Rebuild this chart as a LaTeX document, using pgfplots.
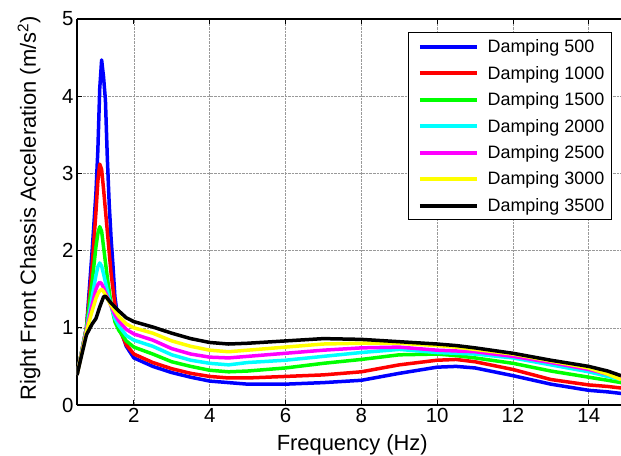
\documentclass[border=0pt]{standalone}
\usepackage{fontspec}
\setmainfont{Liberation Sans}
\usepackage{pgfplots}
\pgfplotsset{compat=1.18}
\definecolor{mblue}{rgb}{0,0,1}
\definecolor{mred}{rgb}{1,0,0}
\definecolor{mgreen}{rgb}{0,1,0}
\definecolor{mcyan}{rgb}{0,1,1}
\definecolor{mmagenta}{rgb}{1,0,1}
\definecolor{myellow}{rgb}{1,1,0}

\begin{document}
\begin{tikzpicture}
\begin{axis}[
  width=544bp, height=386bp, scale only axis,
  xmin=0.5, xmax=14.85, ymin=0, ymax=5,
  xtick={2,4,...,14}, ytick={0,1,...,5},
  axis x line*=box, axis y line*=left,
  y axis line style={-},
  axis line style={line width=1.2bp},
  grid=major, major grid style={densely dotted, gray!80, line width=0.6bp},
  tick style={black, line width=0.8bp}, major tick length=5bp,
  tick align=inside,
  ticklabel style={font=\fontsize{20.5}{22}\selectfont},
  /pgf/number format/assume math mode=true,
  xlabel={Frequency (Hz)},
  ylabel={Right Front Chassis Acceleration (m/s\textsuperscript{2})},
  label style={font=\fontsize{22}{24}\selectfont},
  xlabel style={at={(axis description cs:0.506,0)}, anchor=base, yshift=-45bp},
  ylabel style={at={(axis description cs:-0.0607,0.51)}, anchor=south},
  legend style={at={(0.983,0.966)}, anchor=north east, draw=black,
    line width=1bp, font=\fontsize{18}{20}\selectfont,
    cells={anchor=west}, row sep=8bp, inner sep=5bp},
  legend image code/.code={\path (-5bp,0bp); \draw[#1,line width=4bp] (0bp,0bp) -- (57bp,0bp); \path (64bp,0bp);},
  every axis plot/.append style={line width=3.5bp, line join=round},
]
\addplot[mblue] coordinates {(0.5,0.39)(0.75,1.0)(0.9,2.0)(1.0,2.75)(1.05,3.3)(1.1,4.1)(1.15,4.47)(1.2,4.25)(1.25,3.95)(1.3,3.2)(1.35,2.6)(1.4,2.15)(1.45,1.8)(1.5,1.4)(1.6,1.05)(1.8,0.76)(2.0,0.61)(2.5,0.5)(3,0.42)(3.5,0.36)(4,0.31)(4.5,0.29)(5,0.27)(6,0.27)(7,0.29)(8,0.32)(9,0.41)(10,0.49)(10.5,0.5)(11,0.48)(12,0.38)(13,0.27)(14,0.19)(14.5,0.17)(14.85,0.15)};
\addlegendentry{Damping 500}
\addplot[mred] coordinates {(0.5,0.39)(0.75,1.0)(0.9,1.8)(1.0,2.5)(1.05,2.9)(1.1,3.12)(1.15,3.05)(1.2,2.8)(1.3,2.25)(1.4,1.7)(1.5,1.3)(1.6,1.0)(1.8,0.78)(2.0,0.66)(2.5,0.55)(3,0.47)(3.5,0.41)(4,0.37)(4.5,0.35)(5,0.35)(6,0.37)(7,0.39)(8,0.43)(9,0.52)(10,0.58)(10.5,0.59)(11,0.56)(12,0.46)(13,0.33)(14,0.26)(14.5,0.24)(14.85,0.22)};
\addlegendentry{Damping 1000}
\addplot[mgreen] coordinates {(0.5,0.39)(0.75,1.0)(0.9,1.6)(1.0,2.05)(1.05,2.22)(1.1,2.31)(1.15,2.25)(1.2,2.05)(1.3,1.65)(1.4,1.3)(1.5,1.08)(1.6,0.97)(1.8,0.83)(2.0,0.75)(2.5,0.66)(3,0.56)(3.5,0.5)(4,0.45)(4.5,0.43)(5,0.44)(6,0.48)(7,0.54)(8,0.59)(9,0.65)(10,0.66)(10.5,0.64)(11,0.61)(12,0.54)(13,0.44)(14,0.36)(14.5,0.32)(14.85,0.29)};
\addlegendentry{Damping 1500}
\addplot[mcyan] coordinates {(0.5,0.39)(0.75,0.98)(0.9,1.4)(1.0,1.68)(1.05,1.79)(1.1,1.84)(1.15,1.8)(1.2,1.7)(1.3,1.48)(1.4,1.28)(1.5,1.12)(1.6,1.03)(1.8,0.9)(2.0,0.84)(2.5,0.76)(3,0.65)(3.5,0.58)(4,0.54)(4.5,0.52)(5,0.55)(6,0.58)(7,0.63)(8,0.68)(9,0.72)(10,0.68)(10.5,0.67)(11,0.66)(12,0.61)(13,0.52)(14,0.43)(14.5,0.37)(14.85,0.33)};
\addlegendentry{Damping 2000}
\addplot[mmagenta] coordinates {(0.5,0.39)(0.75,0.97)(0.9,1.3)(1.0,1.5)(1.05,1.56)(1.1,1.59)(1.15,1.57)(1.2,1.52)(1.3,1.4)(1.4,1.28)(1.5,1.17)(1.6,1.09)(1.8,0.98)(2.0,0.92)(2.5,0.84)(3,0.73)(3.5,0.66)(4,0.62)(4.5,0.61)(5,0.63)(6,0.67)(7,0.71)(8,0.74)(9,0.75)(10,0.71)(10.5,0.70)(11,0.69)(12,0.63)(13,0.55)(14,0.46)(14.5,0.40)(14.85,0.35)};
\addlegendentry{Damping 2500}
\addplot[myellow] coordinates {(0.5,0.39)(0.75,0.95)(0.9,1.22)(1.0,1.38)(1.05,1.44)(1.1,1.48)(1.15,1.5)(1.2,1.47)(1.3,1.38)(1.4,1.29)(1.5,1.22)(1.6,1.15)(1.8,1.05)(2.0,1.0)(2.5,0.93)(3,0.83)(3.5,0.76)(4,0.71)(4.5,0.69)(5,0.71)(6,0.75)(7,0.79)(8,0.8)(9,0.8)(10,0.77)(10.5,0.75)(11,0.72)(12,0.66)(13,0.57)(14,0.48)(14.5,0.4)(14.85,0.33)};
\addlegendentry{Damping 3000}
\addplot[black] coordinates {(0.5,0.39)(0.75,0.91)(0.9,1.05)(1.0,1.12)(1.1,1.27)(1.2,1.4)(1.25,1.41)(1.3,1.38)(1.4,1.32)(1.5,1.27)(1.6,1.22)(1.8,1.13)(2.0,1.08)(2.5,1.01)(3,0.93)(3.5,0.86)(4,0.81)(4.5,0.79)(5,0.8)(6,0.83)(7,0.86)(8,0.85)(9,0.82)(10,0.79)(10.5,0.77)(11,0.74)(12,0.67)(13,0.58)(14,0.5)(14.5,0.44)(14.85,0.38)};
\addlegendentry{Damping 3500}
\end{axis}
\pgfresetboundingbox
\path[use as bounding box] ([shift={(-77bp,-51bp)}]current axis.south west) rectangle ([shift={(0bp,19bp)}]current axis.north east);
\end{tikzpicture}
\end{document}
